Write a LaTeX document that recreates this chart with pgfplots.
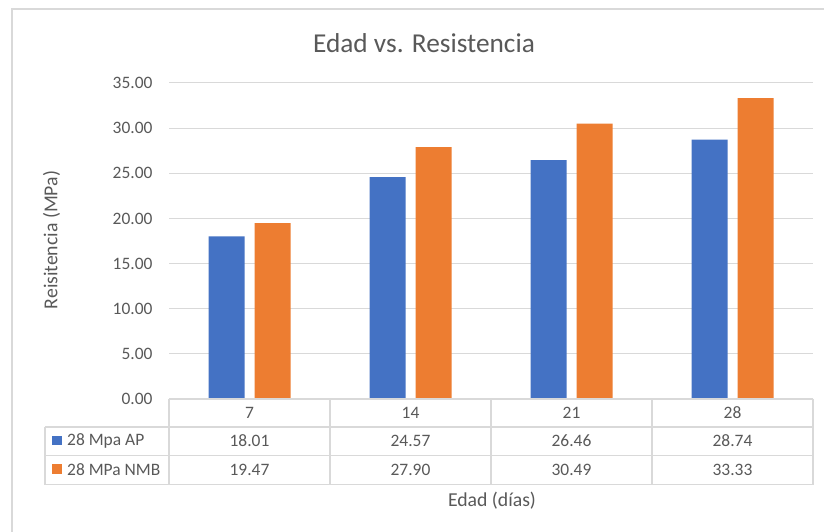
\documentclass[border=0pt]{standalone}
\usepackage{pgfplots}
\pgfplotsset{compat=1.18}
\usepackage{fontspec}
\setmainfont{Carlito}
\definecolor{cblue}{HTML}{4472C4}
\definecolor{corange}{HTML}{ED7D31}
\definecolor{gridc}{HTML}{D9D9D9}
\definecolor{txt}{HTML}{595959}
\newcommand{\tfont}{\fontsize{17.5}{20}\selectfont}
\begin{document}
\begin{tikzpicture}[x=1bp,y=1bp]
\useasboundingbox (0,0) rectangle (824,532);
\fill[white] (0,0) rectangle (824,532);
\draw[gridc, line width=1.5bp] (12,0) -- (12,523) -- (824,523);
\begin{axis}[
  at={(169bp,133bp)}, anchor=south west,
  width=644bp, height=316bp, scale only axis,
  xmin=-0.5, xmax=3.5, ymin=0, ymax=35,
  ytick={0,5,...,35},
  ymajorgrids, grid style={gridc, line width=1bp},
  axis line style={draw=none},
  xtick=\empty,
  ytick style={draw=none},
  /pgf/number format/assume math mode=true,
  yticklabel style={font=\tfont, text=txt, xshift=-13bp, /pgf/number format/.cd, fixed, fixed zerofill, precision=2},
  clip=false,
]
\addplot[ybar, bar width=36bp, bar shift=-23bp, fill=cblue, draw=none] coordinates {(0,18.01) (1,24.57) (2,26.46) (3,28.74)};
\addplot[ybar, bar width=36bp, bar shift=23bp, fill=corange, draw=none] coordinates {(0,19.47) (1,27.90) (2,30.49) (3,33.33)};
\end{axis}
\node[text=txt, font=\fontsize{27.4}{30}\selectfont] at (424,489) {Edad vs. Resistencia};
\node[text=txt, font=\fontsize{19.8}{22}\selectfont, rotate=90] at (51.5,292) {Reisitencia (MPa)};
% data table grid
\begin{scope}[gridc, line width=1.3bp]
\draw (169,133) -- (813,133);
\draw (45,105) -- (813,105);
\draw (45,76.3) -- (813,76.3);
\draw (45,47.3) -- (813,47.3);
\foreach \xx in {169,330,491,652,813} \draw (\xx,133) -- (\xx,47.3);
\draw (45,105) -- (45,47.3);
\end{scope}
\begin{scope}[text=txt, font=\tfont]
\foreach \xx/\lab in {249.5/7,410.5/14,571.5/21,732.5/28} \node at (\xx,119) {\lab};
\foreach \xx/\lab in {249.5/18.01,410.5/24.57,571.5/26.46,732.5/28.74} \node at (\xx,91) {\lab};
\foreach \xx/\lab in {249.5/19.47,410.5/27.90,571.5/30.49,732.5/33.33} \node at (\xx,62) {\lab};
\fill[cblue] (52.3,86.7) rectangle (62,96.3);
\fill[corange] (52.3,57.7) rectangle (62,67.7);
\node[anchor=west, inner sep=0] at (67,91) {28 Mpa AP};
\node[anchor=west, inner sep=0] at (67,62) {28 MPa NMB};
\end{scope}
\node[text=txt, font=\fontsize{19.8}{22}\selectfont] at (492,31) {Edad (días)};
\end{tikzpicture}
\end{document}
